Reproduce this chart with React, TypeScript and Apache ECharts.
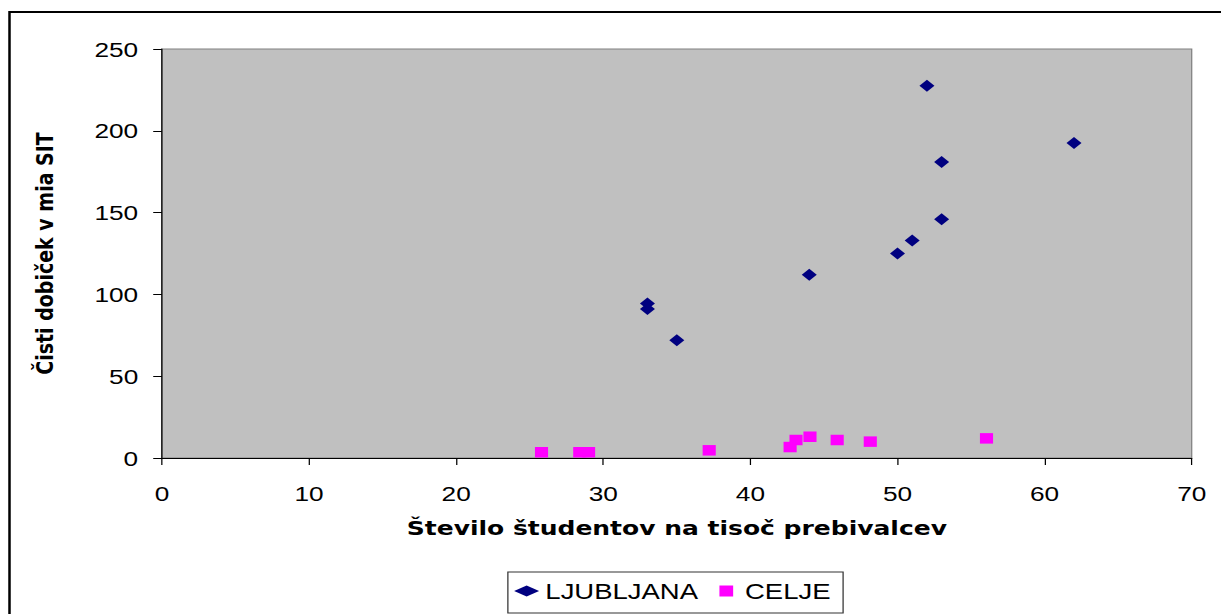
import React, { useEffect, useRef } from "react";
import * as echarts from "echarts";

// Data
const ljubljanaX = [52, 62, 53, 53, 51, 50, 44, 33, 33, 35];
const ljubljanaY = [227.5, 192.5, 181, 146, 133, 125, 112, 94.5, 91, 72];
const celjeX = [25.8, 28.4, 29.0, 37.2, 42.7, 43.1, 44.05, 45.9, 48.15, 56.05];
const celjeY = [3.5, 3.5, 3.5, 4.7, 6.7, 11, 13, 11, 10, 12];
const seriesNames = ["LJUBLJANA", "CELJE"];
const xTitle = "Število študentov na tisoč prebivalcev";
const yTitle = "Čisti dobiček v mia SIT";

const STRETCH = 1.2497;
const W = 977;
const H = 614;

export default function App() {
  const ref = useRef<HTMLDivElement>(null);
  useEffect(() => {
    if (!ref.current) return;
    const chart = echarts.init(ref.current, undefined, { renderer: "svg" });
    const pair = (xs: number[], ys: number[]) => xs.map((x, i) => [x, ys[i]]);
    chart.setOption({
      animation: false,
      backgroundColor: "#ffffff",
      grid: {
        left: 129.6,
        top: 49,
        width: 824,
        height: 409,
        show: true,
        backgroundColor: "#C0C0C0",
        borderColor: "#808080",
        borderWidth: 1,
      },
      legend: {
        left: 406.4,
        top: 572,
        orient: "horizontal",
        padding: [8, 10, 11, 5],
        itemGap: 17,
        itemWidth: 20,
        itemHeight: 11,
        symbolKeepAspect: true,
        borderColor: "#333333",
        borderWidth: 1,
        textStyle: { fontFamily: "Liberation Sans, Arial", fontSize: 22, color: "#000" },
        data: [
          { name: seriesNames[0], icon: "diamond" },
          { name: seriesNames[1], icon: "path://M0,0L10,0L10,10L0,10Z" },
        ],
      },
      xAxis: {
        type: "value",
        min: 0,
        max: 70,
        interval: 10,
        name: xTitle,
        nameLocation: "middle",
        nameGap: 60,
        nameTextStyle: {
          fontFamily: "DejaVu Sans",
          fontWeight: "bold",
          fontSize: 20,
          color: "#000",
        },
        axisLine: { show: true, lineStyle: { color: "#000", width: 1 } },
        axisTick: { show: true, length: 7, lineStyle: { color: "#000" } },
        axisLabel: { margin: 25, fontFamily: "Liberation Sans, Arial", fontSize: 21, color: "#000" },
        splitLine: { show: false },
      },
      yAxis: {
        type: "value",
        min: 0,
        max: 250,
        interval: 50,
        name: yTitle,
        nameLocation: "middle",
        nameRotate: 90,
        nameGap: 84,
        nameTextStyle: {
          fontFamily: "DejaVu Sans",
          fontWeight: "bold",
          fontSize: 19,
          color: "#000",
        },
        axisLine: { show: true, lineStyle: { color: "#000", width: 1 } },
        axisTick: { show: true, length: 7, lineStyle: { color: "#000" } },
        axisLabel: { margin: 19, fontFamily: "Liberation Sans, Arial", fontSize: 21, color: "#000" },
        splitLine: { show: false },
      },
      series: [
        {
          name: seriesNames[0],
          type: "scatter",
          symbol: "diamond",
          symbolSize: 12,
          itemStyle: { color: "#000080", opacity: 1 },
          data: pair(ljubljanaX, ljubljanaY),
        },
        {
          name: seriesNames[1],
          type: "scatter",
          symbol: "rect",
          symbolSize: 10.5,
          itemStyle: { color: "#FF00FF", opacity: 1 },
          data: pair(celjeX, celjeY),
        },
      ],
      graphic: [
        {
          type: "rect",
          shape: { x: 7.6, y: 12, width: 2000, height: 2000 },
          style: { fill: "none", stroke: "#000", lineWidth: 2 },
          silent: true,
        },
      ],
    });
    return () => chart.dispose();
  }, []);
  return (
    <div
      ref={ref}
      style={{
        position: "absolute",
        left: 0,
        top: 0,
        width: W,
        height: H,
        transform: `scaleX(${STRETCH})`,
        transformOrigin: "0 0",
      }}
    />
  );
}
